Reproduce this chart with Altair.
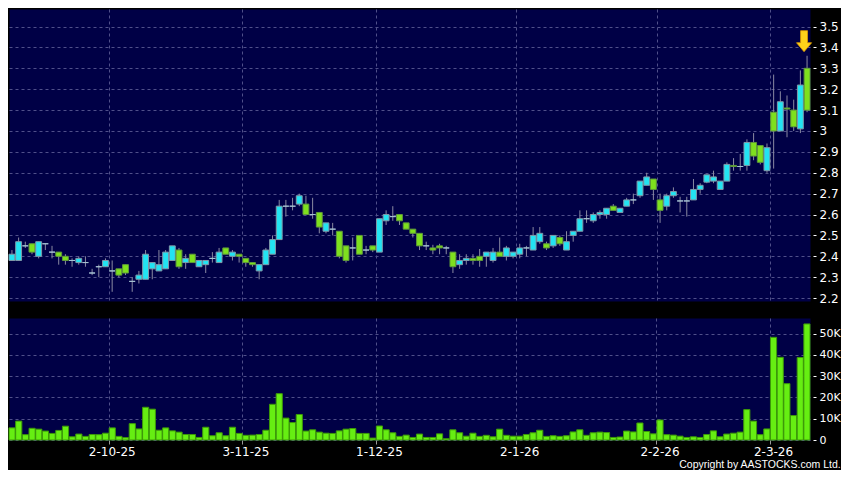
import altair as alt
import pandas as pd

# ---- data ----
opens = [2.38, 2.38, 2.45, 2.46, 2.40, 2.46, 2.42, 2.42, 2.40, 2.38,
         2.37, 2.37, 2.32, 2.35, 2.35, 2.33, 2.34, 2.36, 2.28, 2.29,
         2.29, 2.34, 2.33, 2.34, 2.38, 2.43, 2.37, 2.41, 2.35, 2.36,
         2.39, 2.37, 2.44, 2.40, 2.41, 2.39, 2.37, 2.33, 2.36, 2.41,
         2.48, 2.64, 2.64, 2.65, 2.65, 2.60, 2.61, 2.52, 2.53, 2.52,
         2.45, 2.44, 2.50, 2.43, 2.45, 2.42, 2.57, 2.59, 2.60, 2.56,
         2.53, 2.51, 2.45, 2.44, 2.45, 2.44, 2.42, 2.36, 2.38, 2.39,
         2.40, 2.40, 2.38, 2.42, 2.40, 2.40, 2.41, 2.44, 2.43, 2.47,
         2.46, 2.45, 2.49, 2.43, 2.50, 2.52, 2.58, 2.57, 2.60, 2.60,
         2.64, 2.61, 2.64, 2.67, 2.69, 2.74, 2.77, 2.67, 2.64, 2.69,
         2.665, 2.665, 2.67, 2.72, 2.755, 2.76, 2.72, 2.76, 2.835, 2.83,
         2.835, 2.945, 2.93, 2.81, 3.09, 3.00, 3.11, 3.10, 3.01, 3.30]
highs = [2.43, 2.49, 2.47, 2.46, 2.47, 2.46, 2.45, 2.42, 2.41, 2.39,
         2.40, 2.40, 2.34, 2.36, 2.39, 2.38, 2.34, 2.36, 2.30, 2.33,
         2.43, 2.37, 2.43, 2.43, 2.45, 2.44, 2.41, 2.41, 2.38, 2.38,
         2.42, 2.44, 2.44, 2.43, 2.41, 2.39, 2.37, 2.36, 2.44, 2.50,
         2.67, 2.67, 2.68, 2.70, 2.69, 2.68, 2.61, 2.56, 2.56, 2.52,
         2.45, 2.49, 2.50, 2.45, 2.45, 2.58, 2.62, 2.64, 2.60, 2.56,
         2.53, 2.51, 2.47, 2.455, 2.46, 2.45, 2.42, 2.41, 2.41, 2.41,
         2.435, 2.42, 2.44, 2.49, 2.45, 2.42, 2.46, 2.45, 2.54, 2.54,
         2.47, 2.50, 2.50, 2.52, 2.52, 2.62, 2.62, 2.61, 2.62, 2.63,
         2.65, 2.63, 2.68, 2.70, 2.76, 2.80, 2.77, 2.70, 2.70, 2.73,
         2.685, 2.685, 2.77, 2.75, 2.79, 2.81, 2.76, 2.85, 2.87, 2.89,
         2.96, 2.99, 2.93, 2.94, 3.27, 3.19, 3.17, 3.15, 3.29, 3.36]
lows = [2.38, 2.38, 2.44, 2.41, 2.39, 2.43, 2.39, 2.36, 2.36, 2.35,
        2.36, 2.35, 2.31, 2.30, 2.35, 2.23, 2.30, 2.31, 2.23, 2.27,
        2.29, 2.29, 2.33, 2.34, 2.38, 2.34, 2.34, 2.37, 2.35, 2.32,
        2.37, 2.37, 2.41, 2.38, 2.37, 2.35, 2.35, 2.29, 2.36, 2.41,
        2.48, 2.59, 2.62, 2.64, 2.60, 2.58, 2.51, 2.51, 2.50, 2.39,
        2.37, 2.38, 2.41, 2.41, 2.42, 2.42, 2.55, 2.57, 2.55, 2.53,
        2.49, 2.43, 2.43, 2.41, 2.41, 2.41, 2.32, 2.34, 2.36, 2.36,
        2.35, 2.35, 2.37, 2.40, 2.38, 2.39, 2.39, 2.40, 2.43, 2.46,
        2.43, 2.44, 2.45, 2.43, 2.47, 2.52, 2.56, 2.56, 2.58, 2.58,
        2.62, 2.61, 2.64, 2.65, 2.68, 2.74, 2.67, 2.56, 2.62, 2.68,
        2.61, 2.59, 2.67, 2.70, 2.75, 2.75, 2.72, 2.76, 2.81, 2.81,
        2.81, 2.86, 2.84, 2.80, 2.82, 3.00, 2.97, 3.00, 2.99, 3.09]
closes = [2.41, 2.47, 2.45, 2.42, 2.47, 2.46, 2.42, 2.40, 2.38, 2.38,
          2.39, 2.37, 2.32, 2.35, 2.38, 2.33, 2.31, 2.32, 2.28, 2.31,
          2.41, 2.37, 2.36, 2.42, 2.45, 2.35, 2.39, 2.37, 2.38, 2.38,
          2.39, 2.42, 2.41, 2.42, 2.40, 2.37, 2.36, 2.36, 2.43, 2.48,
          2.64, 2.64, 2.64, 2.69, 2.60, 2.60, 2.54, 2.56, 2.53, 2.40,
          2.38, 2.44, 2.41, 2.43, 2.43, 2.58, 2.60, 2.59, 2.57, 2.53,
          2.51, 2.45, 2.45, 2.43, 2.44, 2.44, 2.35, 2.38, 2.39, 2.38,
          2.38, 2.42, 2.42, 2.40, 2.44, 2.42, 2.44, 2.44, 2.50, 2.51,
          2.44, 2.50, 2.46, 2.47, 2.52, 2.58, 2.58, 2.60, 2.61, 2.63,
          2.62, 2.63, 2.67, 2.67, 2.76, 2.78, 2.72, 2.62, 2.69, 2.71,
          2.665, 2.665, 2.72, 2.74, 2.79, 2.78, 2.76, 2.84, 2.83, 2.83,
          2.945, 2.88, 2.85, 2.92, 3.00, 3.14, 3.105, 3.02, 3.22, 3.10]
volumes_k = [5.7, 8.9, 2.5, 5.5, 5.1, 4.2, 3.1, 4.5, 6.5, 1.5,
             2.8, 1.7, 2.6, 2.5, 3.2, 5.7, 1.7, 1.1, 7.7, 5.2,
             15.4, 14.5, 4.6, 5.7, 4.3, 3.7, 2.6, 2.6, 1.2, 6.0,
             2.0, 3.4, 2.0, 6.0, 3.1, 2.2, 2.3, 2.6, 4.6, 16.8,
             21.8, 10.3, 8.2, 12.0, 4.2, 4.8, 3.7, 3.2, 3.1, 4.3,
             5.1, 5.4, 3.1, 3.1, 0.9, 6.6, 4.8, 3.4, 1.7, 2.3,
             1.2, 2.8, 1.2, 1.2, 2.9, 0.6, 4.8, 3.4, 1.8, 3.2,
             1.7, 2.2, 1.5, 5.1, 2.2, 1.8, 1.8, 2.6, 3.4, 4.6,
             1.7, 2.0, 1.7, 2.0, 3.8, 4.8, 2.2, 3.4, 3.7, 3.5,
             1.2, 1.4, 4.2, 3.8, 8.0, 4.0, 2.9, 9.4, 2.5, 2.3,
             1.8, 1.2, 1.5, 1.2, 2.6, 4.3, 1.5, 2.8, 3.2, 3.7,
             14.3, 8.9, 2.5, 5.2, 48.3, 38.9, 26.5, 11.5, 38.8, 54.6]

date_tick_index = [15, 35, 55, 76, 97, 114]
date_tick_labels = ["2-10-25", "3-11-25", "1-12-25", "2-1-26", "2-2-26", "2-3-26"]
price_ticks = [2.2, 2.3, 2.4, 2.5, 2.6, 2.7, 2.8, 2.9, 3.0, 3.1, 3.2, 3.3, 3.4, 3.5]
volume_ticks = [0, 10000, 20000, 30000, 40000, 50000]
copyright_text = "Copyright by AASTOCKS.com Ltd."

n = len(opens)
kinds = []
for o, c in zip(opens, closes):
    kinds.append("up" if c > o else ("down" if c < o else "flat"))

df = pd.DataFrame({
    "i": list(range(n)),
    "open": opens,
    "high": highs,
    "low": lows,
    "close": closes,
    "volume": [v * 1000 for v in volumes_k],
    "kind": kinds,
})

W = 801
H_PRICE = 292
H_VOL = 122

BG = "#000046"
GRID = "#50508a"
CYAN = "#22e3f2"
GREEN = "#7ee01e"
WICK = "#8a8aa2"
FONT = "DejaVu Sans"

label_expr = "{labels}[indexof({idx}, datum.value)]".format(
    labels="[" + ",".join("'%s'" % s for s in date_tick_labels) + "]",
    idx="[" + ",".join(str(v) for v in date_tick_index) + "]",
)

x_price = alt.X(
    "i:O",
    scale=alt.Scale(paddingInner=0.12, paddingOuter=0),
    axis=alt.Axis(values=date_tick_index, bandPosition=0, labels=False, ticks=False,
                  domain=False, grid=True, title=None),
)

price_scale = alt.Scale(domain=[2.186, 3.584], nice=False, zero=False)
price_axis = alt.Axis(orient="right", values=price_ticks, format=".2~f", title=None,
                      offset=3, tickSize=3, labelPadding=3, tickColor="#ffffff",
                      labelColor="#ffffff", labelFontSize=12, labelFont=FONT,
                      labelOverlap=False, domain=False, grid=True)

wicks = alt.Chart(df).mark_rule(color=WICK, strokeWidth=1).encode(
    x=x_price, y=alt.Y("low:Q", scale=price_scale, axis=price_axis), y2="high:Q"
)

kind_dom = ["up", "down", "flat"]
bodies = alt.Chart(df).mark_bar().encode(
    x=x_price,
    y=alt.Y("open:Q", scale=price_scale, axis=price_axis),
    y2="close:Q",
    fill=alt.Fill("kind:N", scale=alt.Scale(domain=kind_dom, range=[CYAN, GREEN, "#9fbccc"]), legend=None),
    stroke=alt.Stroke("kind:N", scale=alt.Scale(domain=kind_dom, range=["#7f98a8", "#5f9a3a", "#a6c2d2"]), legend=None),
    strokeWidth=alt.StrokeWidth("kind:N", scale=alt.Scale(domain=kind_dom, range=[1, 1, 2]), legend=None),
)

arrow_path = "M-0.33,-1L0.33,-1L0.33,0.15L0.72,0.15L0,1L-0.72,0.15L-0.33,0.15Z"
arrow = alt.Chart(df).transform_filter(
    alt.datum.i == n - 1
).transform_calculate(
    arrow_y="datum.high + 0.07"
).mark_point(
    shape=arrow_path, filled=True, size=441, fill="#ffd21a", stroke="#e09a00",
    strokeWidth=0.8, opacity=1, xOffset=-3
).encode(
    x=x_price, y=alt.Y("arrow_y:Q", scale=price_scale, axis=price_axis)
)

price = alt.layer(wicks, bodies, arrow).properties(width=W, height=H_PRICE)

volume = alt.Chart(df).mark_bar(fill="#66ee12", stroke="#3d9a08", strokeWidth=1).encode(
    x=alt.X(
        "i:O",
        scale=alt.Scale(paddingInner=0.08, paddingOuter=0),
        axis=alt.Axis(values=date_tick_index, bandPosition=0, labelExpr=label_expr,
                      labelAngle=0, labels=True, ticks=True, tickSize=4, tickColor="#9a9a9a",
                      labelColor="#ffffff", labelFontSize=12, labelFont=FONT,
                      labelPadding=2, domain=False, grid=True, title=None),
    ),
    y=alt.Y(
        "volume:Q",
        scale=alt.Scale(domain=[0, 57400], nice=False),
        axis=alt.Axis(orient="right", values=volume_ticks, title=None,
                      labelExpr="datum.value == 0 ? '0' : format(datum.value / 1000, 'd') + 'K'",
                      offset=3, tickSize=3, labelPadding=3, tickColor="#ffffff",
                      labelColor="#ffffff", labelFontSize=11, labelFont=FONT,
                      labelOverlap=False, domain=False, grid=True),
    ),
).properties(width=W, height=H_VOL)

chart = alt.vconcat(price, volume, spacing=12).properties(
    padding={"left": 0, "top": 0, "right": 0, "bottom": 0},
    title=alt.TitleParams(copyright_text, orient="bottom", anchor="end", color="#ffffff",
                          fontSize=10.5, font="Liberation Sans", fontWeight="normal", offset=2),
).configure(
    background="#000000",
).configure_view(
    fill=BG, stroke="transparent"
).configure_axis(
    gridColor=GRID, gridDash=[3, 3], gridWidth=1, gridOpacity=1
)

chart.save("out.html", embed_options={"renderer": "svg", "actions": False})
